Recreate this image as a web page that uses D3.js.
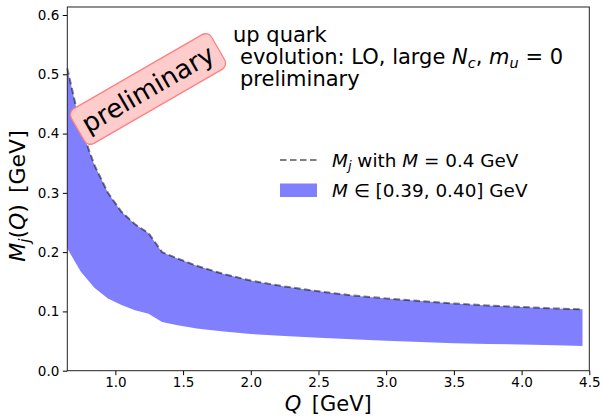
<!DOCTYPE html>
<html>
<head>
<meta charset="utf-8">
<script src="https://cdn.jsdelivr.net/npm/d3@7"></script>
<style>
  body { margin: 0; background: #fff; }
  svg text { font-family: "DejaVu Sans", sans-serif; fill: #000; }
</style>
</head>
<body>
<div id="chart-area"></div>
<script>
// Q grid [GeV] and running masses for M = 0.40 (upper edge / dashed) and M = 0.39 (lower edge)
var qValues = [0.645, 0.745, 0.845, 0.945, 1.045, 1.145, 1.245, 1.345,
               1.45, 1.6, 1.8, 2.0, 2.25, 2.5, 2.75, 3.0, 3.25, 3.5, 3.75, 4.0, 4.25, 4.45]
var mUpper = [0.510, 0.410, 0.347, 0.300, 0.268, 0.247, 0.232, 0.200,
              0.190, 0.177, 0.163, 0.152, 0.142, 0.134, 0.127, 0.122, 0.1175, 0.1135, 0.110, 0.1075, 0.105, 0.1035]
var mLower = [0.206, 0.167, 0.140, 0.122, 0.111, 0.102, 0.096, 0.082,
              0.077, 0.071, 0.066, 0.062, 0.0585, 0.0556, 0.053, 0.0506, 0.0485, 0.0465, 0.0452, 0.044, 0.0428, 0.0416]

var xTicks = [1.0, 1.5, 2.0, 2.5, 3.0, 3.5, 4.0, 4.5]
var yTicks = [0.0, 0.1, 0.2, 0.3, 0.4, 0.5, 0.6]

var W = 602, H = 417
var margin = { left: 67.3, right: 12.7, top: 7, bottom: 46.3 }
var width = W - margin.left - margin.right,
    height = H - margin.top - margin.bottom

var svg = d3.select("#chart-area").append("svg")
    .attr("width", W)
    .attr("height", H)

var g = svg.append("g")
    .attr("transform", "translate(" + margin.left + "," + margin.top + ")")

var x = d3.scaleLinear().domain([0.645, 4.5]).range([0, width])
var y = d3.scaleLinear().domain([0, 0.6135]).range([height, 0])

var data = qValues.map(function(q, i) {
  return { q: q, hi: mUpper[i], lo: mLower[i] }
})

// band
var area = d3.area()
  .x(function(d) { return x(d.q) })
  .y0(function(d) { return y(d.lo) })
  .y1(function(d) { return y(d.hi) })

g.append("path")
  .datum(data)
  .attr("d", area)
  .attr("fill", "#8080ff")

// dashed M = 0.4 curve
var line = d3.line()
  .x(function(d) { return x(d.q) })
  .y(function(d) { return y(d.hi) })

g.append("path")
  .datum(data)
  .attr("d", line)
  .attr("fill", "none")
  .attr("stroke", "#000")
  .attr("stroke-opacity", 0.5)
  .attr("stroke-width", 2)
  .attr("stroke-dasharray", "6.5,3.5")

// axes
var xAxisCall = d3.axisBottom(x)
  .tickValues(xTicks)
  .tickFormat(d3.format(".1f"))
  .tickSize(4.5)
  .tickSizeOuter(0)
var yAxisCall = d3.axisLeft(y)
  .tickValues(yTicks)
  .tickFormat(d3.format(".1f"))
  .tickSize(4.5)
  .tickSizeOuter(0)

var xAxisGroup = g.append("g")
  .attr("transform", "translate(0," + height + ")")
  .call(xAxisCall)
var yAxisGroup = g.append("g").call(yAxisCall)

svg.selectAll(".domain").remove()
svg.selectAll(".tick line").attr("stroke", "#000").attr("stroke-width", 1)
svg.selectAll(".tick text")
  .attr("font-family", "DejaVu Sans")
  .attr("font-size", "13.5px")
  .attr("fill", "#000")
xAxisGroup.selectAll(".tick text").attr("y", 7)
yAxisGroup.selectAll(".tick text").attr("x", -8)

// frame
g.append("rect")
  .attr("width", width)
  .attr("height", height)
  .attr("fill", "none")
  .attr("stroke", "#222")
  .attr("stroke-width", 1)

// axis labels
var xl = svg.append("text")
  .attr("x", margin.left + width / 2)
  .attr("y", 410.5)
  .attr("text-anchor", "middle")
  .attr("font-size", "21px")
xl.append("tspan").attr("font-style", "italic").text("Q")
xl.append("tspan").text("\u2002[GeV]")

var yl = svg.append("text")
  .attr("transform", "translate(25,196) rotate(-90)")
  .attr("text-anchor", "middle")
  .attr("font-size", "22px")
yl.append("tspan").attr("font-style", "italic").text("M")
yl.append("tspan").attr("font-style", "italic").attr("font-size", "15px").attr("dy", 4.5).text("j")
yl.append("tspan").attr("dy", -4.5).text("(")
yl.append("tspan").attr("font-style", "italic").text("Q")
yl.append("tspan").text(")\u2002[GeV]")

// annotation text
var note = svg.append("g").attr("font-size", "21px")
note.append("text").attr("x", 233).attr("y", 41.5).text("up quark")
var l2 = note.append("text").attr("x", 240).attr("y", 64)
l2.append("tspan").text("evolution: LO, large ")
l2.append("tspan").attr("font-style", "italic").text("N")
l2.append("tspan").attr("font-style", "italic").attr("font-size", "14.5px").attr("dy", 3.5).text("c")
l2.append("tspan").attr("dy", -3.5).text(", ")
l2.append("tspan").attr("font-style", "italic").text("m")
l2.append("tspan").attr("font-style", "italic").attr("font-size", "14.5px").attr("dy", 3.5).text("u")
l2.append("tspan").attr("dy", -3.5).text(" = 0")
note.append("text").attr("x", 240).attr("y", 86).text("preliminary")

// legend
var legend = svg.append("g").attr("font-size", "18.4px")
legend.append("line")
  .attr("x1", 280).attr("x2", 317)
  .attr("y1", 160).attr("y2", 160)
  .attr("stroke", "#000")
  .attr("stroke-opacity", 0.5)
  .attr("stroke-width", 2)
  .attr("stroke-dasharray", "6.5,3.5")
var lt1 = legend.append("text").attr("x", 332).attr("y", 166.5)
lt1.append("tspan").attr("font-style", "italic").text("M")
lt1.append("tspan").attr("font-style", "italic").attr("font-size", "13px").attr("dy", 3.5).text("j")
lt1.append("tspan").attr("dy", -3.5).text(" with ")
lt1.append("tspan").attr("font-style", "italic").text("M")
lt1.append("tspan").text(" = 0.4 GeV")

legend.append("rect")
  .attr("x", 280).attr("y", 183.5)
  .attr("width", 37).attr("height", 13.5)
  .attr("fill", "#8080ff")
var lt2 = legend.append("text").attr("x", 332).attr("y", 196.5)
lt2.append("tspan").attr("font-style", "italic").text("M")
lt2.append("tspan").text(" \u2208 [0.39, 0.40] GeV")

// "preliminary" stamp
var stamp = svg.append("g")
  .attr("transform", "translate(148,89) rotate(-30)")
stamp.append("rect")
  .attr("x", -81)
  .attr("y", -20)
  .attr("width", 162)
  .attr("height", 40)
  .attr("rx", 7)
  .attr("fill", "#ffcccc")
  .attr("stroke", "#ff8080")
  .attr("stroke-width", 1.3)
stamp.append("text")
  .attr("text-anchor", "middle")
  .attr("y", 9)
  .attr("font-size", "26px")
  .text("preliminary")
</script>
</body>
</html>
